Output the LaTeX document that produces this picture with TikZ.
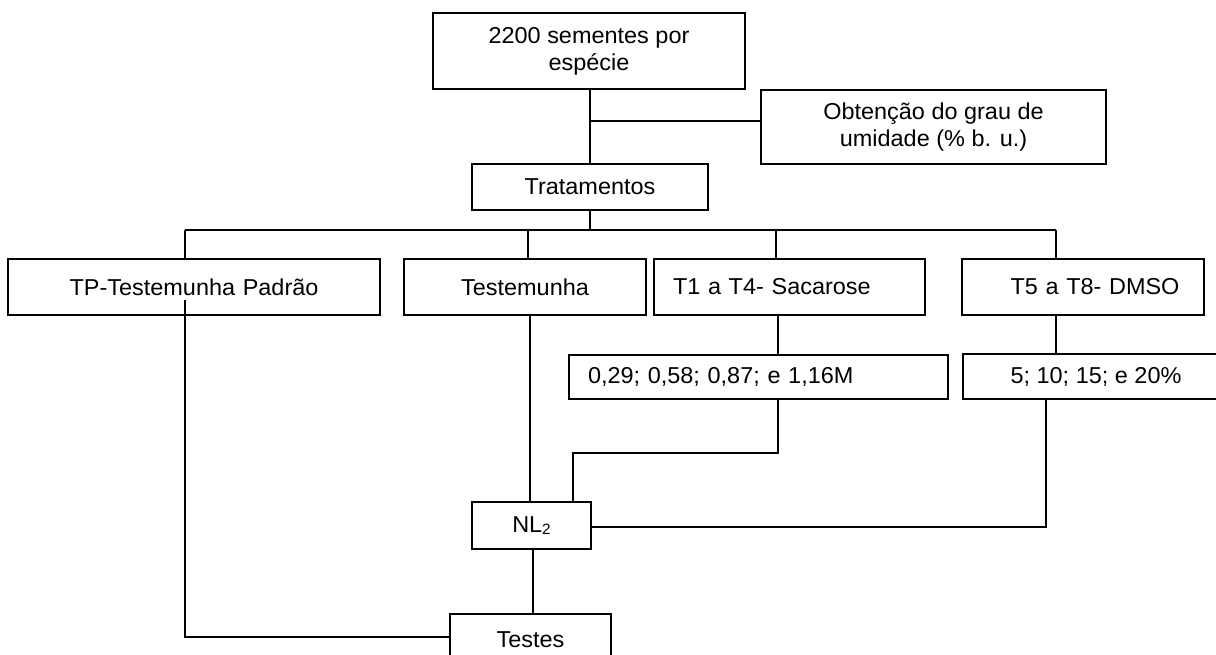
\documentclass[tikz,border=0pt]{standalone}
\usepackage{fontspec}
\setmainfont{Liberation Sans}[FakeStretch=1.02]
\begin{document}
\begin{tikzpicture}[x=1pt,y=-1pt,
  box/.style={draw=black, line width=1.8pt, inner sep=0pt, align=center,
    font=\fontsize{23}{27}\selectfont},
  conn/.style={draw=black, line width=1.3pt}]
\useasboundingbox (0,0) rectangle (1216,654);
\fill[white] (0,0) rectangle (1216,654);
% nodes
\node[box, minimum width=312pt, minimum height=76pt] (top) at (589,51) {2200 sementes por\\espécie};
\node[box, minimum width=345pt, minimum height=74pt] (obt) at (933.5,127) {Obtenção do grau de\\umidade (\% b. u.)};
\node[box, minimum width=236pt, minimum height=46pt] (trat) at (590,187) {Tratamentos};
\node[box, text width=364pt, inner xsep=4pt, align=center, minimum height=56pt] (tp) at (194,287) {TP-Testemunha Padrão\hspace*{8pt}};
\node[box, minimum width=242pt, minimum height=56pt] (tes) at (525,287) {Testemunha};
\node[box, text width=233pt, inner xsep=19pt, align=left, minimum height=56pt] (t1) at (789.5,287) {T1 a T4- Sacarose};
\node[box, text width=222pt, inner xsep=10pt, align=center, minimum height=56pt] (t5) at (1083,287) {\hspace*{24pt}T5 a T8- DMSO};
\node[box, text width=341pt, inner xsep=19pt, align=left, minimum height=44pt] (sac) at (758.5,377) {0,29; 0,58; 0,87; e 1,16M};
\node[box, minimum width=266pt, minimum height=45pt] (dmso) at (1096,376.5) {5; 10; 15; e 20\%};
\node[box, minimum width=119pt, minimum height=47pt] (nl) at (531.5,525.5) {NL\raisebox{-0.15ex}{\fontsize{15}{15}\selectfont 2}};
\node[box, minimum width=161pt, minimum height=52pt] (testes) at (530.5,640) {Testes};
% junction coordinates
\coordinate (j1) at (590,121);
\coordinate (busL) at (185,230);
\coordinate (busR) at (1056,230);
\coordinate (bT) at (528,230);
\coordinate (b1) at (776,230);
\coordinate (b0) at (590,230);
\coordinate (s1) at (778,453);
\coordinate (s2) at (573,453);
\coordinate (d1) at (1046,527);
\coordinate (tp1) at (185,300);
\coordinate (tp2) at (185,637);
% connectors
\draw[conn] (top.south -| j1) -- (trat.north -| j1);
\draw[conn] (j1) -- (j1 -| obt.west);
\draw[conn] (trat.south -| b0) -- (b0);
\draw[conn] (busL) -- (busR);
\draw[conn] (busL) -- (busL |- tp.north);
\draw[conn] (bT) -- (bT |- tes.north);
\draw[conn] (b1) -- (b1 |- t1.north);
\draw[conn] (busR) -- (busR |- t5.north);
\draw[conn] (t1.south -| s1) -- (s1 |- sac.north);
\draw[conn] (t5.south -| busR) -- (busR |- dmso.north);
\draw[conn] (sac.south -| s1) -- (s1) -- (s2) -- (s2 |- nl.north);
\draw[conn] (tes.south -| 530,0) -- (nl.north -| 530,0);
\draw[conn] (dmso.south -| d1) -- (d1) -- (d1 -| nl.east);
\draw[conn] (nl.south -| 533,0) -- (testes.north -| 533,0);
\draw[conn] (tp1) -- (tp2) -- (tp2 -| testes.west);
\end{tikzpicture}
\end{document}
